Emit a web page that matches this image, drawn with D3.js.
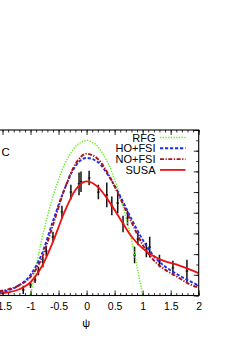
<!DOCTYPE html>
<html>
<head>
<meta charset="utf-8" />
<style>
  body { margin: 0; background: #fff; }
  svg { display: block; }
  text { font-family: "Liberation Sans", Arial, sans-serif; fill: #000; }
</style>
</head>
<body>
<div id="chart"></div>
<script src="https://cdn.jsdelivr.net/npm/d3@7"></script>
<script>
// psi grid for the model curves
var psi = [-2.0, -1.8, -1.6, -1.4, -1.2, -1.0, -0.8, -0.6, -0.4, -0.2, 0.0,
           0.2, 0.4, 0.6, 0.8, 1.0, 1.2, 1.4, 1.6, 1.8, 2.0];
var rfgPsi = [-1.0, -0.9, -0.8, -0.7, -0.6, -0.5, -0.4, -0.3, -0.2, -0.1, 0.0,
              0.1, 0.2, 0.3, 0.4, 0.5, 0.6, 0.7, 0.8, 0.9, 1.0];
var rfg    = [0.0, 0.14, 0.27, 0.38, 0.48, 0.56, 0.63, 0.68, 0.72, 0.74, 0.75,
              0.74, 0.72, 0.68, 0.63, 0.56, 0.48, 0.38, 0.27, 0.14, 0.0];
var hoFsi  = [0.006, 0.01, 0.015, 0.025, 0.05, 0.10, 0.20, 0.36, 0.51, 0.625, 0.665,
              0.645, 0.575, 0.48, 0.37, 0.27, 0.19, 0.14, 0.105, 0.075, 0.048];
var noFsi  = [0.008, 0.013, 0.02, 0.03, 0.05, 0.09, 0.18, 0.34, 0.51, 0.635, 0.685,
              0.66, 0.58, 0.47, 0.355, 0.245, 0.17, 0.125, 0.093, 0.06, 0.037];
var susa   = [0.003, 0.005, 0.008, 0.015, 0.03, 0.065, 0.14, 0.26, 0.40, 0.51, 0.552,
              0.525, 0.455, 0.37, 0.285, 0.228, 0.19, 0.165, 0.15, 0.13, 0.108];

// experimental points: psi, value, error
var expPsi = [-1.13, -1.0, -0.92, -0.86, -0.78, -0.72, -0.60, -0.44, -0.28, -0.135, -0.10,
              0.045, 0.21, 0.36, 0.45, 0.555, 0.65, 0.73, 0.856, 0.915, 1.066, 1.126,
              1.30, 1.54, 1.79];
var expVal = [0.027, 0.051, 0.075, 0.118, 0.162, 0.215, 0.283, 0.404, 0.50, 0.54, 0.55,
              0.568, 0.50, 0.486, 0.433, 0.447, 0.346, 0.375, 0.196, 0.273, 0.22, 0.234,
              0.167, 0.133, 0.118];
var expErr = [0.02, 0.015, 0.015, 0.02, 0.025, 0.025, 0.025, 0.03, 0.035, 0.055, 0.05,
              0.035, 0.035, 0.06, 0.045, 0.05, 0.04, 0.035, 0.04, 0.03, 0.035, 0.05,
              0.03, 0.035, 0.055];

var xTicks = [-2, -1.5, -1, -0.5, 0, 0.5, 1, 1.5, 2];
var yTicks = [0, 0.1, 0.2, 0.3, 0.4, 0.5, 0.6, 0.7, 0.8];
var legendNames = ["RFG", "HO+FSI", "NO+FSI", "SUSA"];

var width = 248, height = 351;
var x = d3.scaleLinear().domain([-2, 2]).range([-25.5, 198.7]);
var y = d3.scaleLinear().domain([0, 0.8]).range([295.5, 130]);

var svg = d3.select('#chart').append('svg')
  .attr('width', width).attr('height', height);

var styles = [
  {color: '#66ee22', dash: '1.3,1.4', width: 1.5},
  {color: '#1f2ff0', dash: '3.2,1.8', width: 1.9},
  {color: '#a8141a', dash: '4,1.5,1.3,1.5', width: 1.9},
  {color: '#f01010', dash: null, width: 1.8}
];

svg.append('clipPath').attr('id', 'plotclip')
  .append('rect').attr('x', x(-2)).attr('y', y(0.8))
  .attr('width', x(2) - x(-2)).attr('height', y(0) - y(0.8));

var plot = svg.append('g').attr('clip-path', 'url(#plotclip)');

var line = d3.line().curve(d3.curveMonotoneX)
  .x(function(d) { return x(d[0]); })
  .y(function(d) { return y(d[1]); });

var series = [
  d3.zip(rfgPsi, rfg),
  d3.zip(psi, hoFsi),
  d3.zip(psi, noFsi),
  d3.zip(psi, susa)
];

// error bars
var pts = d3.zip(expPsi, expVal, expErr);
plot.selectAll('line.err').data(pts).enter().append('line')
  .attr('class', 'err')
  .attr('x1', function(d) { return x(d[0]); })
  .attr('x2', function(d) { return x(d[0]); })
  .attr('y1', function(d) { return y(d[1] - d[2]); })
  .attr('y2', function(d) { return y(d[1] + d[2]); })
  .attr('stroke', '#111').attr('stroke-width', 1.5);
plot.selectAll('rect.pt').data(pts).enter().append('rect')
  .attr('class', 'pt')
  .attr('x', function(d) { return x(d[0]) - 1.3; })
  .attr('y', function(d) { return y(d[1]) - 0.6; })
  .attr('width', 2.6).attr('height', 1.2)
  .attr('fill', '#111');

plot.selectAll('path.curve').data(series).enter().append('path')
  .attr('class', 'curve')
  .attr('d', line)
  .attr('fill', 'none')
  .attr('stroke', function(d, i) { return styles[i].color; })
  .attr('stroke-width', function(d, i) { return styles[i].width; })
  .attr('stroke-dasharray', function(d, i) { return styles[i].dash; });

// minor/major ticks, pointing inward
var xMinor = d3.range(-20, 21).map(function(v) { return v / 10; });
var yMinor = d3.range(0, 17).map(function(v) { return v / 20; });

svg.append('g').attr('transform', 'translate(0,' + y(0) + ')')
  .call(d3.axisBottom(x).tickValues(xMinor).tickSize(-2.5).tickFormat(''))
  .call(function(g) { g.select('.domain').remove(); });
svg.append('g').attr('transform', 'translate(0,' + y(0) + ')')
  .call(d3.axisBottom(x).tickValues(xTicks).tickSize(-5).tickFormat(function(d) { return String(d); }))
  .call(function(g) {
    g.select('.domain').remove();
    g.selectAll('text').attr('font-size', 10.5).attr('dy', '0.71em')
      .attr('y', 7.5).style('font-family', '"Liberation Sans", Arial, sans-serif');
  });
svg.append('g').attr('transform', 'translate(0,' + y(0.8) + ')')
  .call(d3.axisTop(x).tickValues(xMinor).tickSize(-2.5).tickFormat(''))
  .call(function(g) { g.select('.domain').remove(); });
svg.append('g').attr('transform', 'translate(0,' + y(0.8) + ')')
  .call(d3.axisTop(x).tickValues(xTicks).tickSize(-5).tickFormat(''))
  .call(function(g) { g.select('.domain').remove(); });
svg.append('g').attr('transform', 'translate(' + x(2) + ',0)')
  .call(d3.axisRight(y).tickValues(yMinor).tickSize(-2.5).tickFormat(''))
  .call(function(g) { g.select('.domain').remove(); });
svg.append('g').attr('transform', 'translate(' + x(2) + ',0)')
  .call(d3.axisRight(y).tickValues(yTicks).tickSize(-5).tickFormat(''))
  .call(function(g) { g.select('.domain').remove(); });
svg.selectAll('.tick line').attr('stroke', '#000').attr('stroke-width', 0.8);

// frame
svg.append('rect')
  .attr('x', x(-2)).attr('y', y(0.8))
  .attr('width', x(2) - x(-2)).attr('height', y(0) - y(0.8))
  .attr('fill', 'none').attr('stroke', '#000').attr('stroke-width', 1.1);

// nucleus label: only the "C" falls inside the visible area
var nuc = svg.append('text').attr('x', 1.6).attr('y', 156)
  .attr('font-size', 11.5);
nuc.append('tspan').attr('x', -10).attr('dy', -4).attr('font-size', 8).text('12');
nuc.append('tspan').attr('x', 1.6).attr('y', 156).text('C');

// axis title
svg.append('text').attr('x', x(0) - 0.5).attr('y', 327)
  .attr('text-anchor', 'middle').attr('font-size', 11).text('\u03C8');

// legend
var leg = svg.append('g');
legendNames.forEach(function(name, i) {
  var ly = 137.5 + i * 10.8;
  leg.append('text').attr('x', 155.5).attr('y', ly + 4)
    .attr('text-anchor', 'end').attr('font-size', 11).text(name);
  leg.append('line').attr('x1', 160).attr('x2', 185.5)
    .attr('y1', ly).attr('y2', ly)
    .attr('stroke', styles[i].color)
    .attr('stroke-width', styles[i].width)
    .attr('stroke-dasharray', styles[i].dash);
});
</script>
</body>
</html>
